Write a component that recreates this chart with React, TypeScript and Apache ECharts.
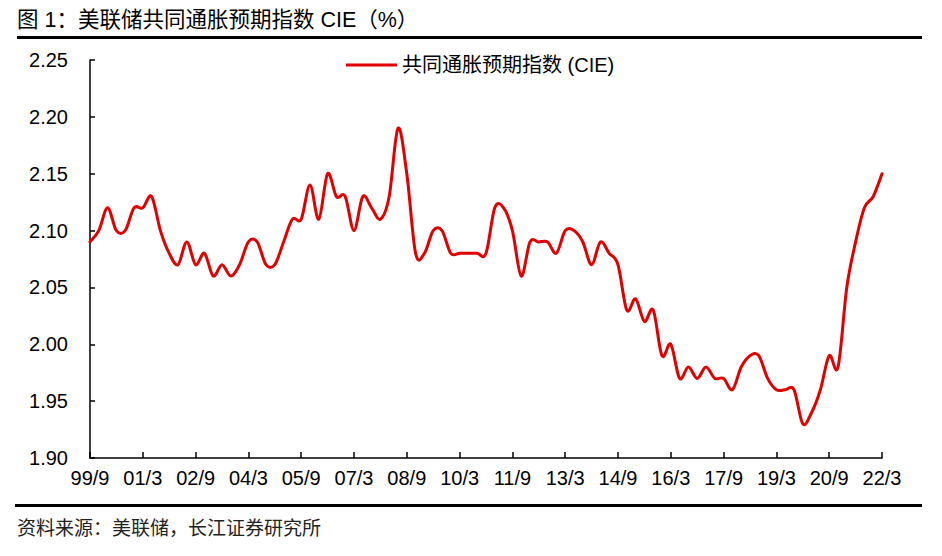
import React, { useEffect, useRef } from "react";
import * as echarts from "echarts";

// Quarterly CIE, 1999Q3 .. 2022Q1
const startYear = 1999;
const startMonth = 9;
const cieValues: number[] = [
  2.09, 2.10, 2.12, 2.10, 2.10, 2.12, 2.12, 2.13, 2.10, 2.08,
  2.07, 2.09, 2.07, 2.08, 2.06, 2.07, 2.06, 2.07, 2.09, 2.09,
  2.07, 2.07, 2.09, 2.11, 2.11, 2.14, 2.11, 2.15, 2.13, 2.13,
  2.10, 2.13, 2.12, 2.11, 2.13, 2.19, 2.15, 2.08, 2.08, 2.10,
  2.10, 2.08, 2.08, 2.08, 2.08, 2.08, 2.12, 2.12, 2.10, 2.06,
  2.09, 2.09, 2.09, 2.08, 2.10, 2.10, 2.09, 2.07, 2.09, 2.08,
  2.07, 2.03, 2.04, 2.02, 2.03, 1.99, 2.00, 1.97, 1.98, 1.97,
  1.98, 1.97, 1.97, 1.96, 1.98, 1.99, 1.99, 1.97, 1.96, 1.96,
  1.96, 1.93, 1.94, 1.96, 1.99, 1.98, 2.05, 2.09, 2.12, 2.13,
  2.15,
];
const categories: string[] = cieValues.map((_, i) => {
  const m0 = startMonth - 1 + i * 3;
  const y = startYear + Math.floor(m0 / 12);
  const m = (m0 % 12) + 1;
  return `${String(y % 100).padStart(2, "0")}/${m}`;
});
const seriesName = "共同通胀预期指数 (CIE)";
const titleText = "图 1：美联储共同通胀预期指数 CIE（%）";
const sourceText = "资料来源：美联储，长江证券研究所";
const yTicks = { min: 1.9, max: 2.25, interval: 0.05 };

const FONT = "'Liberation Sans', Arial, 'Noto Sans CJK SC', sans-serif";
const RED = "#e00000";

// Smoothed (Catmull-Rom style, like spreadsheet "smoothed line") path through the data points,
// positioned with the chart's own axes via api.coord.
function renderSmoothLine(params: any, api: any) {
  const pts = cieValues.map((v, i) => api.coord([i, v]) as number[]);
  const n = pts.length;
  let d = `M${pts[0][0]},${pts[0][1]}`;
  for (let i = 0; i < n - 1; i++) {
    const p0 = pts[Math.max(0, i - 1)];
    const p1 = pts[i];
    const p2 = pts[i + 1];
    const p3 = pts[Math.min(n - 1, i + 2)];
    const c1x = p1[0] + (p2[0] - p0[0]) / 6;
    const c1y = p1[1] + (p2[1] - p0[1]) / 6;
    const c2x = p2[0] - (p3[0] - p1[0]) / 6;
    const c2y = p2[1] - (p3[1] - p1[1]) / 6;
    d += ` C${c1x},${c1y} ${c2x},${c2y} ${p2[0]},${p2[1]}`;
  }
  return {
    type: "path",
    shape: { pathData: d },
    style: { fill: "none", stroke: RED, lineWidth: 3, lineJoin: "round", lineCap: "round" },
    silent: true,
  };
}

export default function App() {
  const ref = useRef<HTMLDivElement>(null);
  useEffect(() => {
    if (!ref.current) return;
    const chart = echarts.init(ref.current, undefined, { renderer: "svg" });
    chart.setOption({
      animation: false,
      backgroundColor: "#ffffff",
      textStyle: { fontFamily: FONT },
      grid: { left: 90, right: 60, top: 60, bottom: 98, containLabel: false },
      legend: {
        data: [seriesName],
        left: 341,
        top: 50,
        itemWidth: 51,
        itemHeight: 3,
        itemGap: 5,
        icon: "rect",
        itemStyle: { color: RED },
        textStyle: { fontSize: 20, color: "#000", fontFamily: FONT },
      },
      xAxis: {
        type: "category",
        data: categories,
        boundaryGap: false,
        axisLine: { lineStyle: { color: "#000", width: 1.5 } },
        axisTick: { inside: true, length: 6, interval: 5, lineStyle: { color: "#000", width: 1.5 } },
        axisLabel: { interval: 5, margin: 10, fontSize: 20, color: "#000", fontFamily: FONT },
        splitLine: { show: false },
      },
      yAxis: {
        type: "value",
        min: yTicks.min,
        max: yTicks.max,
        interval: yTicks.interval,
        axisLine: { show: true, lineStyle: { color: "#000", width: 1.5 } },
        axisTick: { show: true, inside: true, length: 5, lineStyle: { color: "#000", width: 1.5 } },
        axisLabel: {
          margin: 22,
          fontSize: 20,
          color: "#000",
          fontFamily: FONT,
          formatter: (v: number) => v.toFixed(2),
        },
        splitLine: { show: false },
      },
      series: [
        {
          name: seriesName,
          type: "custom",
          data: [[0, cieValues[0]]],
          renderItem: renderSmoothLine,
          itemStyle: { color: RED },
        },
      ],
      graphic: [
        {
          type: "text",
          left: 17,
          top: 9,
          style: { text: titleText, fontSize: 21.5, fill: "#000", fontFamily: FONT },
        },
        {
          type: "rect",
          shape: { x: 17, y: 36, width: 905, height: 3 },
          style: { fill: "#000" },
        },
        {
          type: "rect",
          shape: { x: 15, y: 504, width: 907, height: 3 },
          style: { fill: "#000" },
        },
        {
          type: "text",
          left: 17,
          top: 519,
          style: { text: sourceText, fontSize: 19, fill: "#222", fontFamily: FONT },
        },
      ],
    });
    return () => chart.dispose();
  }, []);
  return (
    <div
      ref={ref}
      style={{ position: "absolute", left: 0, top: 0, width: 942, height: 556 }}
    />
  );
}
